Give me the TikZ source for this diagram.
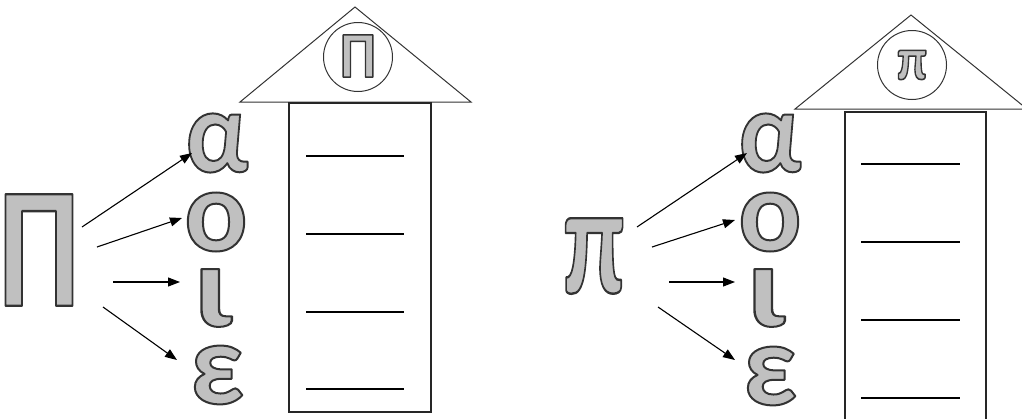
\documentclass[tikz,border=0pt]{standalone}
\usepackage{fontspec}
\newfontfamily\grk{Carlito}
\usetikzlibrary{arrows.meta,calc}
\definecolor{fillc}{HTML}{C0C0C0}
% gray glyph with a dark outline: fill + stroke text rendering mode
\newcommand\olt[2][2]{\textcolor{fillc}{\special{pdf:literal direct 0.2 G #1 w 1 j 2 Tr}#2\special{pdf:literal direct 0 Tr}}}
\tikzset{
  bigl/.style={inner sep=0pt, font=\grk\bfseries\fontsize{172}{180}\selectfont},
  midl/.style={inner sep=0pt, font=\grk\bfseries\fontsize{155}{160}\selectfont},
  smalll/.style={inner sep=0pt, font=\grk\bfseries\fontsize{118}{120}\selectfont},
  roofl/.style={inner sep=0pt, font=\grk\bfseries\fontsize{65}{66}\selectfont},
  roofs/.style={inner sep=0pt, font=\grk\bfseries\fontsize{60}{62}\selectfont},
  roof/.style={draw=black!80, line width=1pt, line join=miter},
  badge/.style={circle, draw=black!80, line width=1pt, minimum size=69pt, inner sep=0pt},
  housebox/.style={draw=black!85, line width=1.3pt},
  blank/.style={draw=black, line width=2.6pt},
  arr/.style={-{Triangle[length=12pt,width=9pt]}, line width=1.1pt}
}
\begin{document}
\begin{tikzpicture}[x=1pt,y=-1pt]
\useasboundingbox (0,0) rectangle (1022,418);
% ---------- left house ----------
\draw[roof] (240,102) -- (355,7) -- (471,102) -- cycle;
\node[badge] (lbadge) at (358,57) {};
\node[roofl] (lroofP) at ([yshift=1pt]lbadge.center) {\scalebox{0.88}[1]{\olt[1.6]{Π}}};
\draw[housebox] (289,103) rectangle (431,412);
\foreach \yy in {156,234,312,389} \draw[blank] (306,\yy) -- (404,\yy);
% letters left
\node[bigl] (P) at (39,250) {\scalebox{0.75}[1]{\olt[2.4]{Π}}};
\node[smalll] (la) at (217,143) {\scalebox{0.9}[1]{\olt{α}}};
\node[smalll] (lo) at (216,222) {\olt{ο}};
\node[smalll] (li) at (213,298) {\scalebox{1.2}[1]{\olt{ι}}};
\node[smalll] (le) at (217,375) {\olt{ε}};
\coordinate (ls1) at (82,227);
\coordinate (ls2) at (97,247);
\coordinate (ls3) at (113,282);
\coordinate (ls4) at (103,307);
\coordinate (le1) at (192,153);
\coordinate (le2) at (182,218);
\coordinate (le3) at (180,282);
\coordinate (le4) at (177,360);
\draw[arr] (ls1) -- (le1);
\draw[arr] (ls2) -- (le2);
\draw[arr] (ls3) -- (le3);
\draw[arr] (ls4) -- (le4);
% ---------- right house ----------
\draw[roof] (795,109) -- (911,15) -- (1027,109) -- cycle;
\node[badge] (rbadge) at (912,65) {};
\node[roofs] (rroofp) at (rbadge.center) {\scalebox{0.85}[1]{\olt[1.6]{π}}};
\draw[housebox] (845,112) rectangle (986,425);
\foreach \yy in {164,242,320,398} \draw[blank] (861,\yy) -- (960,\yy);
% letters right
\node[midl] (p) at (594,256) {\scalebox{0.68}[1]{\olt[2.4]{π}}};
\node[smalll] (ra) at (770,143) {\scalebox{0.9}[1]{\olt{α}}};
\node[smalll] (ro) at (770,222) {\olt{ο}};
\node[smalll] (ri) at (766,298) {\scalebox{1.2}[1]{\olt{ι}}};
\node[smalll] (re) at (770,376) {\olt{ε}};
\coordinate (rs1) at (637,227);
\coordinate (rs2) at (652,247);
\coordinate (rs3) at (669,282);
\coordinate (rs4) at (658,307);
\coordinate (re1) at (747,153);
\coordinate (re2) at (735,220);
\coordinate (re3) at (735,282);
\coordinate (re4) at (735,360);
\draw[arr] (rs1) -- (re1);
\draw[arr] (rs2) -- (re2);
\draw[arr] (rs3) -- (re3);
\draw[arr] (rs4) -- (re4);
\end{tikzpicture}
\end{document}
